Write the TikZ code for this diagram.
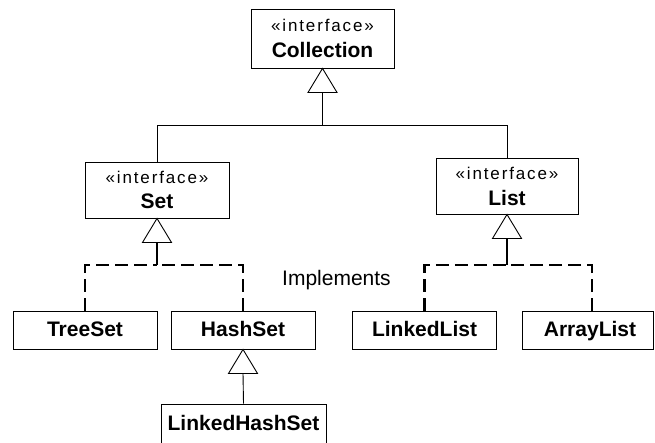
\documentclass[tikz,border=0pt]{standalone}
\usepackage{fontspec}
\setmainfont{Liberation Sans}
\newfontfamily\stereofont[LetterSpace=11]{Liberation Sans}
\begin{document}
\begin{tikzpicture}[x=1pt,y=-1pt,
  box/.style={draw=black,line width=0.9pt,inner sep=0pt,minimum width=144pt},
  ibox/.style={box,minimum height=56pt},
  cbox/.style={box,minimum height=38pt},
  stereo/.style={anchor=base,inner sep=0pt,font=\stereofont\fontsize{17}{20}\selectfont},
  cname/.style={anchor=base,inner sep=0pt,font=\fontsize{21}{24}\selectfont\bfseries},
  solidline/.style={line width=0.9pt},
  tri/.style={line width=0.9pt,fill=white,line join=miter},
  implements/.style={line width=2.6pt,dash pattern=on 13pt off 6pt}
]
\useasboundingbox (0,0) rectangle (655,442);
\clip (0,0) rectangle (655,442);
\fill[white] (0,0) rectangle (655,442);

% interface boxes
\node[ibox,minimum width=143pt,minimum height=59pt] (coll) at (322.5,38.5) {};
\node[stereo] (collS) at (322.5,31) {«interface»};
\node[cname] (collN) at (322.5,57) {Collection};

\node[ibox] (set) at (157,190) {};
\node[stereo] (setS) at (157,183) {«interface»};
\node[cname] (setN) at (157,208) {Set};

\node[ibox,minimum width=142pt] (list) at (507,186) {};
\node[stereo] (listS) at (507,179) {«interface»};
\node[cname] (listN) at (507,205) {List};

% classes
\node[cbox] (tree) at (85,330) {};
\node[cname] (treeN) at (85,336) {TreeSet};
\node[cbox] (hash) at (243,330) {};
\node[cname] (hashN) at (243,336) {HashSet};
\node[cbox] (ll) at (424.5,330) {};
\node[cname] (llN) at (424.5,336) {LinkedList};
\node[cbox,minimum width=131pt] (al) at (587.5,330) {};
\node[cname] (alN) at (590,336) {ArrayList};
\node[cbox,minimum width=165pt,minimum height=40pt] (lhs) at (243.5,424) {};
\node[cname] (lhsN) at (243.5,430) {LinkedHashSet};

% generalization Collection
\draw[tri] (coll.south) -- ++(-14.5,24) -- ++(29,0) -- cycle;
\coordinate (collB) at (322.5,92);
\coordinate (hub) at (322.5,126);
\draw[solidline] (collB) -- (hub);
\draw[solidline] (set.north) -- ++(0,-36) -| (list.north);

% Set implementations
\draw[tri] (set.south) -- ++(-14.5,24) -- ++(29,0) -- cycle;
\coordinate (setB) at (157,242);
\coordinate (setJ) at (157,265);
\draw[line width=2.6pt] (setB) -- (setJ);
\draw[implements] (tree.north) |- (setJ);
\draw[implements] (hash.north) |- (setJ);

% List implementations
\draw[tri] (list.south) -- ++(-14.5,24) -- ++(29,0) -- cycle;
\coordinate (listB) at (507,238);
\coordinate (listJ) at (507,265);
\coordinate (alTop) at (592,311);
\draw[line width=2.6pt] (listB) -- (listJ);
\draw[implements] (ll.north) |- (listJ);
\draw[implements] (alTop) |- (listJ);

\node[anchor=base west,inner sep=0pt,font=\fontsize{21}{24}\selectfont] (impl) at (282,285) {Implements};

% HashSet -> LinkedHashSet
\draw[tri] (hash.south) -- ++(-14.5,24) -- ++(29,0) -- cycle;
\coordinate (hashB) at (243,373);
\draw[solidline] (hashB) -- (lhs.north);
\end{tikzpicture}
\end{document}
